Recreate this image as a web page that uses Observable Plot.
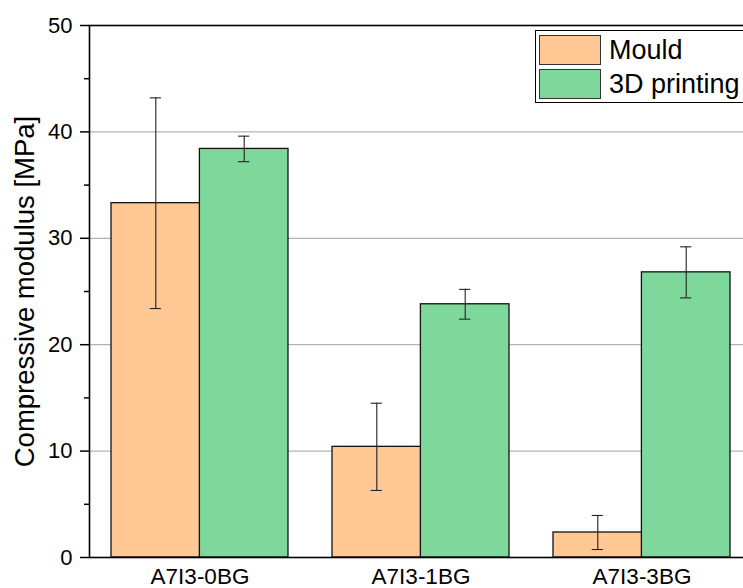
<!DOCTYPE html>
<html>
<head>
<meta charset="utf-8">
<script src="https://cdn.jsdelivr.net/npm/d3@7"></script>
<script src="https://cdn.jsdelivr.net/npm/@observablehq/plot@0.6"></script>
<style>
  html, body { margin: 0; padding: 0; background: #fff; overflow: hidden; width: 743px; height: 588px; }
  #wrap { position: relative; width: 743px; height: 588px; overflow: hidden; font-family: "Liberation Sans", Arial, sans-serif; }
  #chart svg { max-width: none !important; display: block; }
  #legend { position: absolute; left: 535px; top: 30px; width: 230px; height: 71px; border: 1px solid #000; background: #fff; }
  .item { position: absolute; left: 3px; height: 30px; display: flex; align-items: center; }
  .sw { width: 60px; height: 28px; border: 1px solid #333; box-sizing: content-box; }
  .lab { margin-left: 8px; font-size: 27px; color: #000; line-height: 30px; }
</style>
</head>
<body>
<div id="wrap"><div id="chart"></div>
<div id="legend">
  <div class="item" style="top:4px"><div class="sw" style="background:#FFC894"></div><span class="lab">Mould</span></div>
  <div class="item" style="top:38px"><div class="sw" style="background:#7FD89B"></div><span class="lab">3D printing</span></div>
</div>
</div>
<script>
const categories = ["A7I3-0BG", "A7I3-1BG", "A7I3-3BG"];
const series = ["Mould", "3D printing"];
const mouldValues = [33.3, 10.4, 2.35];
const mouldErrors = [9.9, 4.1, 1.6];
const printValues = [38.4, 23.8, 26.8];
const printErrors = [1.2, 1.4, 2.4];
const colors = ["#FFC894", "#7FD89B"];
const majorTicks = [0, 10, 20, 30, 40, 50];
const minorTicks = [5, 15, 25, 35, 45];
const gridTicks = [10, 20, 30, 40];
const yLabel = "Compressive modulus [MPa]";

const W = 760, ML = 89, MR = 8;
const xScale = Plot.scale({x: {type: "band", domain: categories, range: [ML, W - MR], paddingInner: 0.2, paddingOuter: 0.1}});
const bw = xScale.bandwidth;
const half = bw / 2;
const capInset = (half - 11) / 2;

const mould = categories.map((c, i) => ({category: c, value: mouldValues[i], err: mouldErrors[i]}));
const printing = categories.map((c, i) => ({category: c, value: printValues[i], err: printErrors[i]}));

function errMarks(d, dx) {
  return [
    Plot.ruleX(d, {x: "category", y1: r => r.value - r.err, y2: r => r.value + r.err, dx, stroke: "#222", strokeWidth: 1.1}),
    Plot.tickY(d, {x: "category", y: r => r.value + r.err, dx, insetLeft: capInset + half / 2, insetRight: capInset + half / 2, stroke: "#222", strokeWidth: 1.1}),
    Plot.tickY(d, {x: "category", y: r => r.value - r.err, dx, insetLeft: capInset + half / 2, insetRight: capInset + half / 2, stroke: "#222", strokeWidth: 1.1})
  ];
}

const chart = Plot.plot({
  width: W,
  height: 588,
  marginLeft: ML,
  marginRight: MR,
  marginTop: 25,
  marginBottom: 31,
  style: {fontFamily: "Liberation Sans, Arial, sans-serif", fontSize: "22px", background: "#fff", color: "#000", maxWidth: "none"},
  x: {domain: categories, paddingInner: 0.2, paddingOuter: 0.1, label: null, axis: null},
  y: {domain: [0, 50], label: null, axis: null},
  marks: [
    Plot.ruleY(gridTicks, {stroke: "#a0a0a0", strokeWidth: 1}),
    Plot.barY(mould, {x: "category", y: "value", insetRight: half, fill: colors[0], stroke: "#111", strokeWidth: 1.3}),
    Plot.barY(printing, {x: "category", y: "value", insetLeft: half, fill: colors[1], stroke: "#111", strokeWidth: 1.3}),
    ...errMarks(mould, -half / 2),
    ...errMarks(printing, half / 2),
    Plot.frame({stroke: "#000", strokeWidth: 1.6}),
    Plot.axisY({ticks: majorTicks, tickSize: 9, tickPadding: 8, fontSize: 22, tickFormat: d => String(d), strokeWidth: 1.5, label: null}),
    Plot.axisY({ticks: minorTicks, tickSize: 5, tickFormat: () => "", strokeWidth: 1.5, label: null}),
    Plot.axisX({tickSize: 0, tickPadding: 11, fontSize: 22.5, label: null}),
    Plot.text([yLabel], {frameAnchor: "left", textAnchor: "middle", rotate: -90, dx: -64, fontSize: 27.5, fill: "#000"})
  ]
});
document.getElementById("chart").appendChild(chart);
</script>
</body>
</html>
